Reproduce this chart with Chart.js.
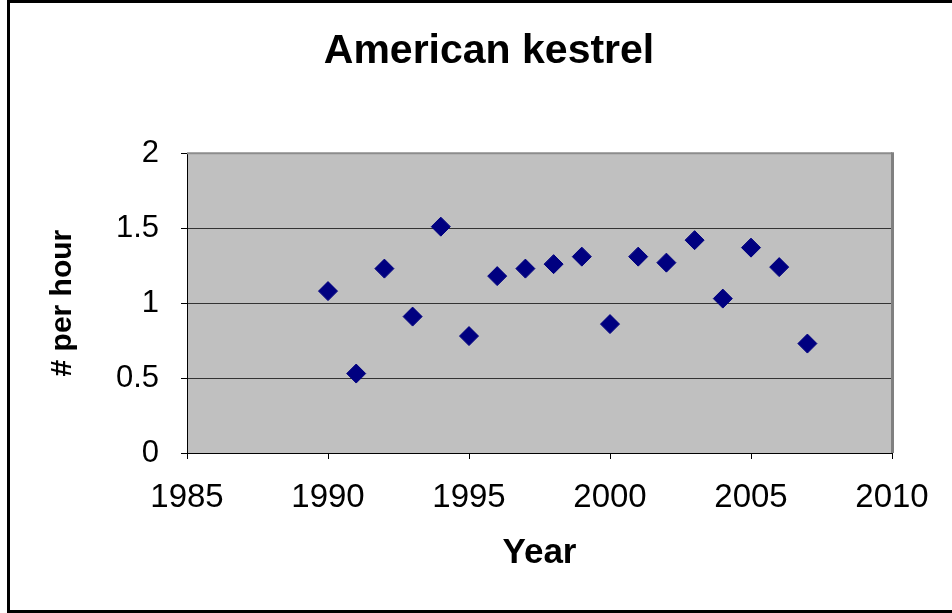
<!DOCTYPE html>
<html>
<head>
<meta charset="utf-8">
<title>American kestrel</title>
<script src="https://cdn.jsdelivr.net/npm/chart.js@4/dist/chart.umd.min.js"></script>
<style>
  html, body { margin: 0; padding: 0; background: #ffffff; }
  canvas { display: block; }
</style>
</head>
<body>
<canvas id="chart" width="952" height="613"></canvas>
<script>
// Survey years and kestrels counted per hour
const years = [1990, 1991, 1992, 1993, 1994, 1995, 1996, 1997, 1998,
               1999, 2000, 2001, 2002, 2003, 2004, 2005, 2006, 2007];
const perHour = [1.08, 0.53, 1.23, 0.91, 1.51, 0.78, 1.18, 1.23, 1.26,
                 1.31, 0.86, 1.31, 1.27, 1.42, 1.03, 1.37, 1.24, 0.73];

// Axis tick values
const xTicks = [1985, 1990, 1995, 2000, 2005, 2010];
const yTicks = [0, 0.5, 1, 1.5, 2];

const FONT = '"Liberation Sans", Arial, Helvetica, sans-serif';

// Outer frame, grey plot background and plot-area border
const framePlugin = {
  id: 'frame',
  beforeDraw(chart) {
    const { ctx, chartArea: a } = chart;
    ctx.save();
    ctx.fillStyle = '#ffffff';
    ctx.fillRect(0, 0, chart.width, chart.height);
    ctx.fillStyle = '#c0c0c0';
    ctx.fillRect(a.left, a.top, a.right - a.left, a.bottom - a.top);
    ctx.restore();
  },
  beforeDatasetsDraw(chart) {
    const { ctx, chartArea: a } = chart;
    ctx.save();
    ctx.strokeStyle = '#8c8c8c';
    ctx.lineWidth = 2;
    ctx.beginPath();
    ctx.moveTo(a.left, a.top);
    ctx.lineTo(a.right, a.top);
    ctx.stroke();
    ctx.strokeStyle = '#808080';
    ctx.lineWidth = 3;
    ctx.beginPath();
    ctx.moveTo(a.right + 0.5, a.top - 1);
    ctx.lineTo(a.right + 0.5, a.bottom);
    ctx.stroke();
    ctx.restore();
  },
  afterDraw(chart) {
    const { ctx } = chart;
    ctx.save();
    ctx.fillStyle = '#000000';
    ctx.fillRect(7, 0, chart.width - 7, 3);
    ctx.fillRect(7, 0, 3, chart.height);
    ctx.fillRect(7, chart.height - 3, chart.width - 7, 3);
    ctx.restore();
  }
};

new Chart(document.getElementById('chart'), {
  type: 'scatter',
  data: {
    datasets: [{
      label: '# per hour',
      data: years.map((y, i) => ({ x: y, y: perHour[i] })),
      pointStyle: 'rectRot',
      pointRadius: 9.5,
      pointHoverRadius: 9.5,
      backgroundColor: '#000080',
      borderColor: '#000080',
      borderWidth: 1
    }]
  },
  options: {
    responsive: false,
    animation: false,
    devicePixelRatio: 1,
    layout: { padding: { left: 26, right: 0, top: 0, bottom: 0 } },
    plugins: {
      legend: { display: false },
      tooltip: { enabled: false },
      title: {
        display: true,
        text: 'American kestrel',
        color: '#000000',
        font: { family: FONT, size: 41, weight: 'bold' },
        padding: { top: 27, bottom: 77 }
      }
    },
    scales: {
      x: {
        type: 'linear',
        position: 'bottom',
        min: xTicks[0],
        max: xTicks[xTicks.length - 1],
        afterBuildTicks: s => { s.ticks = xTicks.map(v => ({ value: v })); },
        afterFit: s => { s.height = 160; },
        ticks: {
          callback: v => String(v),
          color: '#000000',
          font: { family: FONT, size: 33 },
          padding: 19,
          maxRotation: 0,
          autoSkip: false
        },
        grid: {
          drawOnChartArea: false,
          drawTicks: true,
          tickLength: 6,
          tickColor: '#000000',
          tickWidth: 1
        },
        border: { display: true, color: '#000000', width: 1 },
        title: {
          display: true,
          text: 'Year',
          color: '#000000',
          font: { family: FONT, size: 35, weight: 'bold' },
          padding: { top: 0, bottom: 39 }
        }
      },
      y: {
        type: 'linear',
        position: 'left',
        min: yTicks[0],
        max: yTicks[yTicks.length - 1],
        afterBuildTicks: s => { s.ticks = yTicks.map(v => ({ value: v })); },
        afterFit: s => { s.width = 161; },
        ticks: {
          callback: v => String(v),
          color: '#000000',
          font: { family: FONT, size: 31 },
          padding: 22
        },
        grid: {
          color: ctx => (ctx.tick && (ctx.tick.value === 0 || ctx.tick.value === 2)) ? 'rgba(0,0,0,0)' : '#333333',
          lineWidth: 1,
          drawTicks: true,
          tickLength: 6,
          tickColor: '#000000',
          tickWidth: 1
        },
        border: { display: true, color: '#000000', width: 1 },
        title: {
          display: true,
          text: '# per hour',
          color: '#000000',
          font: { family: FONT, size: 30, weight: 'bold' },
          padding: { top: 19, bottom: 0 }
        }
      },
      yRight: {
        type: 'linear',
        position: 'right',
        display: true,
        afterFit: s => { s.width = 60; },
        ticks: { display: false },
        grid: { display: false, drawTicks: false },
        border: { display: false },
        title: { display: false }
      }
    }
  },
  plugins: [framePlugin]
});
</script>
</body>
</html>
